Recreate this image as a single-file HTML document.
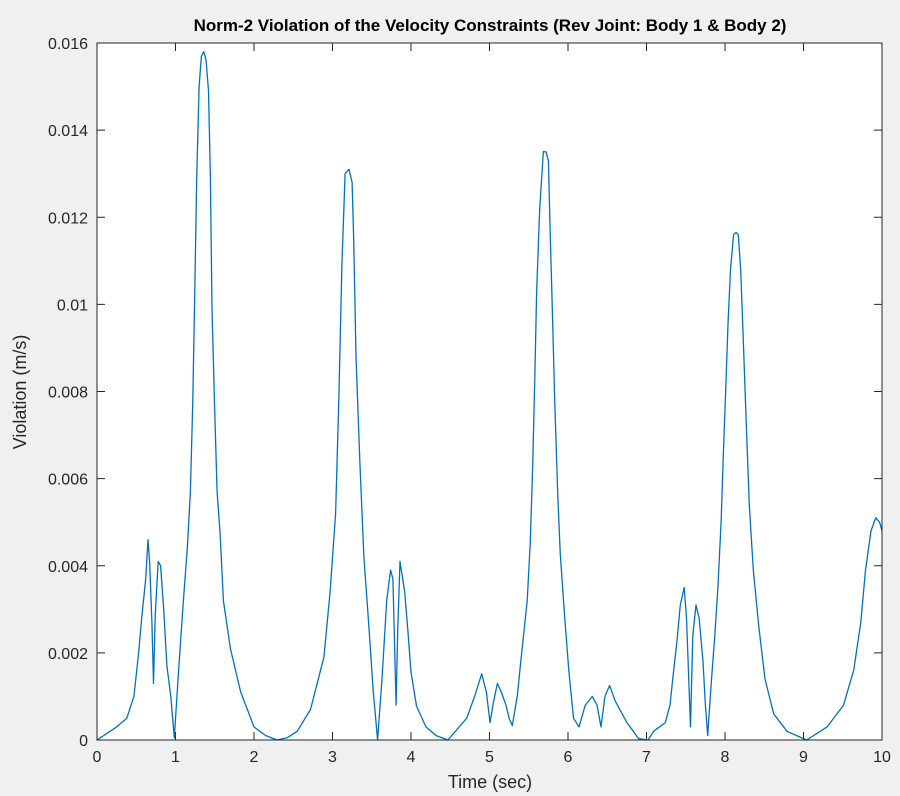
<!DOCTYPE html>
<html><head><meta charset="utf-8"><style>
body{margin:0;background:#f0f0f0;}
svg{display:block;font-family:"Liberation Sans",sans-serif;}
</style></head><body>
<svg id="chart" width="900" height="796" xmlns="http://www.w3.org/2000/svg">
<rect x="0" y="0" width="900" height="796" fill="#f0f0f0"/>
<rect x="97" y="43" width="785" height="697" fill="#fff"/>
<text x="490" y="31" text-anchor="middle" font-size="17" font-weight="bold" fill="#000">Norm-2 Violation of the Velocity Constraints (Rev Joint: Body 1 &amp; Body 2)</text>
<text x="490" y="788" text-anchor="middle" font-size="18" fill="#262626">Time (sec)</text>
<text transform="translate(26,392) rotate(-90)" text-anchor="middle" font-size="18" fill="#262626">Violation (m/s)</text>
<g id="ticks"></g>
<path id="line" fill="none" stroke="#0072bd" stroke-width="1.3" stroke-linejoin="round"/>
<rect x="97" y="43" width="785" height="697" fill="none" stroke="#262626" stroke-width="1"/>
</svg>
<script>
const times=[0,0.25,0.38,0.47,0.53,0.57,0.62,0.65,0.67,0.70,0.72,0.743,0.78,0.81,0.85,0.89,0.94,0.985,1.04,1.10,1.15,1.19,1.22,1.245,1.27,1.30,1.33,1.36,1.39,1.42,1.444,1.465,1.495,1.53,1.57,1.61,1.70,1.83,2.0,2.15,2.29,2.42,2.55,2.72,2.89,2.97,3.04,3.08,3.12,3.16,3.21,3.25,3.27,3.30,3.35,3.40,3.46,3.52,3.575,3.63,3.69,3.74,3.77,3.81,3.83,3.86,3.92,3.96,4.0,4.07,4.19,4.32,4.47,4.71,4.81,4.90,4.96,5.006,5.05,5.10,5.15,5.21,5.25,5.29,5.355,5.39,5.43,5.48,5.52,5.55,5.58,5.60,5.64,5.686,5.72,5.75,5.77,5.80,5.83,5.87,5.90,5.95,6.01,6.07,6.14,6.22,6.31,6.37,6.42,6.47,6.53,6.60,6.75,6.90,7.02,7.09,7.24,7.30,7.34,7.39,7.43,7.48,7.51,7.56,7.59,7.63,7.67,7.72,7.75,7.78,7.82,7.87,7.91,7.95,7.98,8.01,8.04,8.07,8.11,8.14,8.17,8.20,8.23,8.27,8.31,8.36,8.43,8.51,8.62,8.79,9.04,9.3,9.51,9.64,9.73,9.79,9.86,9.92,9.97,10.0];
const values=[0,0.0003,0.0005,0.001,0.002,0.0028,0.0037,0.0046,0.0041,0.0027,0.0013,0.0029,0.0041,0.004,0.003,0.0017,0.001,0.00005,0.0016,0.0032,0.0044,0.0057,0.0078,0.0102,0.0129,0.0150,0.0157,0.0158,0.0156,0.0149,0.0129,0.0099,0.0078,0.0057,0.0047,0.0032,0.0021,0.0011,0.0003,0.0001,0,0.00005,0.0002,0.0007,0.0019,0.0034,0.0052,0.0078,0.0109,0.0130,0.0131,0.0128,0.0115,0.0088,0.0063,0.0042,0.0027,0.0011,0,0.0014,0.0032,0.0039,0.0037,0.0008,0.0025,0.0041,0.0034,0.0025,0.00156,0.00078,0.0003,0.0001,0,0.0005,0.001,0.00152,0.0011,0.0004,0.00086,0.0013,0.0011,0.0008,0.0005,0.00033,0.00103,0.00165,0.00235,0.0032,0.00455,0.0063,0.0085,0.01026,0.0122,0.01351,0.0135,0.0133,0.0119,0.0099,0.0078,0.0056,0.0043,0.0030,0.0016,0.0005,0.0003,0.0008,0.001,0.0008,0.0003,0.001,0.00125,0.0009,0.0004,0.00003,0,0.0002,0.0004,0.0008,0.0015,0.0023,0.0031,0.0035,0.0028,0.0003,0.0024,0.0031,0.0028,0.0018,0.0008,0.0001,0.0012,0.0024,0.0035,0.005,0.0066,0.0081,0.0096,0.0108,0.0116,0.01165,0.0116,0.0108,0.0093,0.0073,0.0054,0.0039,0.0026,0.0014,0.0006,0.0002,0,0.0003,0.0008,0.0016,0.0027,0.0039,0.0048,0.0051,0.005,0.0048];
const xTicks=[0,1,2,3,4,5,6,7,8,9,10];
const yTicks=[0,0.002,0.004,0.006,0.008,0.01,0.012,0.014,0.016];
const yLabels=["0","0.002","0.004","0.006","0.008","0.01","0.012","0.014","0.016"];
const X=t=>97+t/10*785, Y=v=>740-v/0.016*697;
const NS="http://www.w3.org/2000/svg", g=document.getElementById('ticks');
function mk(tag,a){const e=document.createElementNS(NS,tag);for(const k in a)e.setAttribute(k,a[k]);g.appendChild(e);return e;}
xTicks.forEach(t=>{
 const l1=mk('line',{x1:X(t),x2:X(t),y1:740,y2:732,stroke:'#262626'});
 
 
 const l2=mk('line',{x1:X(t),x2:X(t),y1:43,y2:51,stroke:'#262626'});
 
 
 const tx=mk('text',{x:X(t),y:762,'text-anchor':'middle','font-size':16,fill:'#262626'});
 tx.textContent=t;
 
 
});
yTicks.forEach((v,i)=>{
 const l1=mk('line',{x1:97,x2:105,y1:Y(v),y2:Y(v),stroke:'#262626'});
 
 
 const l2=mk('line',{x1:874,x2:882,y1:Y(v),y2:Y(v),stroke:'#262626'});
 
 
 const tx=mk('text',{x:88,y:Y(v)+6,'text-anchor':'end','font-size':16,fill:'#262626'});
 tx.textContent=yLabels[i];
 
 
});
document.getElementById('line').setAttribute('d',times.map((t,i)=>(i?'L':'M')+X(t).toFixed(1)+','+Y(values[i]).toFixed(1)).join(''));
</script>
</body></html>
